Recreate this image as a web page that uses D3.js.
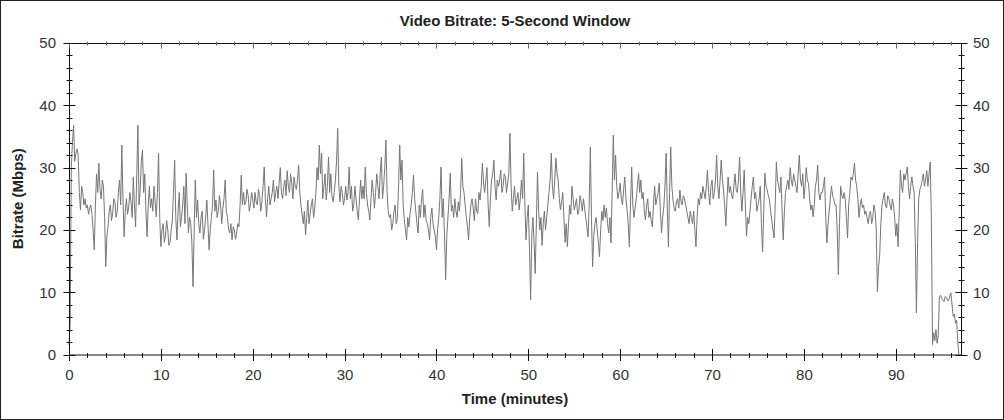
<!DOCTYPE html>
<html><head><meta charset="utf-8">
<script src="https://cdn.jsdelivr.net/npm/d3@7"></script>
<style>body{margin:0;background:#fff}svg{display:block}</style>
</head><body>
<svg id="chart" width="1004" height="420"></svg>
<script>
const titleText = "Video Bitrate: 5-Second Window";
const xLabelText = "Time (minutes)";
const yLabelText = "Bitrate (Mbps)";
const xTicks = [0,10,20,30,40,50,60,70,80,90];
const yTicks = [0,10,20,30,40,50];
const sampleStep = 0.125; // minutes between samples
// one row per minute, 8 samples each
const bitrate = [
1.5,5,30,34,36.8,31,32.3,33,
32,26,23.2,27,26,24,25,23.5,
24,22.5,23.5,24,22.5,20,16.8,24,
29,26,30.7,26.5,25,28,27,22,
14.1,19,20.5,23,24,21.5,22.6,25,
24.5,22,23,26,28,24,33.6,25,
18.9,23,25,22.5,23.7,26,24.5,22,
28.5,24,20.5,29,36.8,24,26.4,31,
32.8,26,29,23,18.9,24,27,23.5,
25,23,27,24.5,22.1,26,32.3,22,
17.3,20,21,18,19,21.5,20,17.5,
18,20,21.6,26,31.2,22,18.4,23,
26,20.5,22,24,27,21,29.1,24,
19.5,22,21,18,10.9,20,28,22,
24.8,21,19.5,22,23,18.5,20,22,
24.8,21,16.8,20,22,24,29.6,23,
24.8,22,23,25.5,24,21,23.5,25,
28,23,22,20,19.5,21,18.4,20.5,
20,18.5,19.5,21,20.5,24,28.8,24,
26,24,24.5,26.5,25.5,23,24,26,
25,23.5,26,24.5,24,26.5,25.5,23,
24.5,27,30.1,25,22.1,25,27,24,
25,26,28,24.5,26,27,25,27.5,
30,26,25,27,28,25.5,29.5,27,
26,29,27.5,25,28.5,27,26.5,28,
30.4,26,24,22.5,21,23,19.2,22,
24.8,21,22.5,24,25,22,23.5,26,
30,28,33.6,29,32.3,25,27,29,
24.8,27,31.7,26,29,25.5,24.5,26,
28,31,36.3,27,24.5,27,26,24,
25,27,24.8,26,30.1,25,27,23,
24,27,25,23,21.6,25,28,25,
27,25,30.1,26,24,23,21.6,25,
28,26,23.5,26,29,27,25,29,
31.7,25,27,30,34.4,26,23,22,
22.5,20,21,23,24,21,22,27,
33.6,28,31.2,24,21.6,20,18.4,22,
20.5,22.5,24,26,28.8,25,23,21,
19.5,24,22,25,26.5,22,24,21.5,
21,20,18.4,22,23.5,21,20,19,
16.8,20,22,25,30.1,22,25,19,
12,19,22,25,29.1,23,24,22,
25,23,22,24.5,23,26,31.5,27,
26,24,22,20.5,18.4,22,24,25,
23.5,21.5,25,23,22.6,26,24.8,27,
30.7,27.5,26,28,30,24,20.5,25,
28,29,31.2,27,24.8,28,27,28,
29.6,26,27,29,28.5,26,27.5,29,
35.5,27,23,25,27,24,25,26,
23.2,25,28,25,32.3,24,18.4,22,
24,17,8.8,19,22,18,13,21,
29.3,23,20,22,17.5,21,23,20,
22,24,26,28,32.3,27,25,28,
31.5,29,28,25,23.2,24.5,26,22,
18,21,17.3,21,24,22.5,27,25,
23.2,24,25,22.5,23,25.5,24.5,23,
25,23.5,22,20.5,18.9,24,33.3,22,
14.1,19,21,22,20,18,15.7,20,
23,21.5,24,22,23.5,21,19.5,22,
17.9,26,35.2,28,32,27,25,26,
27.5,25,24,26.5,28.5,25,23.2,21,
17.3,24,30.1,24,22,23.5,25,27,
29.1,26,28,25,26,23,21.6,24,
25,22,23,21.5,20.5,24,27,24,
25,26,27.5,23,19.5,22,23.7,27,
32.3,24,17.3,26,33.3,27,24.8,23.5,
23,24.5,25,23.5,26.4,24.5,24,25.5,
25,24,23,22,21,23,22,21,
23,20,17.3,22,25,24,26,25,
27,26,25,27,29.6,26,24,27,
28,25,26,28,32,27,25,28,
31.2,28,26.4,24,20.6,25,28.5,26,
27,25.5,25,27,29,26.5,26,28,
31.7,26,23,26,29.6,24,19,22,
21,23,25,27,28.5,25,26,23,
24,25,27,21,16.5,23,29.1,27,
26.4,25.5,24.8,23,21.6,20,18.7,24,
30.9,28,27,26,28.5,23,18.4,23,
26,27,28,26.5,30,28,27,29,
28,27,26,29,32,28,27,29,
25,27,30,28,27.5,25,23.2,24,
22.1,24,27,28,30.4,26,24.8,26,
26,27,28.5,22,17.9,21,23,25,
27,25.5,25,24,24,20,12.8,21,
27,25.5,25,26,24.8,22,18.7,24,
26,28.5,28,29,30.7,28,27,25,
22,24,25,23.5,24,22.5,23,22,
21,22.5,23,21,22,24,23,20,
10.1,14,16,21,24,25,26,24,
23.5,25.5,25,24,23.2,25,24,22,
19,21,17.3,23,29.6,27,26,29,
28,29,30.1,27,25,27,28.5,27,
26,18,6.7,18,25,26.5,27,28,
29,27,28,29.5,27,29,30.9,21.6,
1.6,3.5,2.2,4,1.8,3,9.3,9.5,
9,8.8,8.5,9.3,9.2,8.7,8.6,9.4,
9.9,8,6.1,6.5,5,5.5,2,0
];

const W = 1004, H = 420;
const plot = {left: 69, right: 961, top: 43, bottom: 354.5};
const svg = d3.select("#chart");
const font = "'Liberation Sans', Arial, sans-serif";

svg.append("rect").attr("x",0.5).attr("y",0.5).attr("width",W-1).attr("height",H-1)
  .attr("fill","#fff").attr("stroke","#222").attr("stroke-width",1);

const x = d3.scaleLinear().domain([0, 97.1]).range([plot.left, plot.right]);
const y = d3.scaleLinear().domain([0, 50]).range([plot.bottom, plot.top]);

const data = bitrate.map((v,i) => ({t: i*sampleStep, v}));

svg.append("path").datum(data)
  .attr("fill","none").attr("stroke","#767676").attr("stroke-width",1)
  .attr("stroke-linejoin","round")
  .attr("d", d3.line().x(d=>x(d.t)).y(d=>y(d.v)));

const fr = svg.append("g").attr("stroke","#111").attr("stroke-width",1).attr("fill","none");
fr.append("rect").attr("x",plot.left+0.5).attr("y",plot.top+0.5)
  .attr("width",plot.right-plot.left).attr("height",plot.bottom-plot.top);

const minorX = d3.range(0, 97, 2).filter(v=>v%10!==0);
const minorY = d3.range(0, 50, 2).filter(v=>v%10!==0);
const tk = svg.append("g").attr("stroke","#111").attr("stroke-width",1);
const X0 = plot.left+0.5, X1 = plot.right+0.5, Yb = plot.bottom+0.5, Yt = plot.top+0.5;
const px = v => Math.round(x(v))+0.5, py = v => Math.round(y(v))+0.5;
xTicks.forEach(v=>{
  tk.append("line").attr("x1",px(v)).attr("x2",px(v)).attr("y1",Yb-6).attr("y2",Yb+6);
  tk.append("line").attr("x1",px(v)).attr("x2",px(v)).attr("y1",Yt-1).attr("y2",Yt+5).attr("stroke","#666");
});
minorX.forEach(v=>{
  tk.append("line").attr("x1",px(v)).attr("x2",px(v)).attr("y1",Yb-2).attr("y2",Yb+3);
  tk.append("line").attr("x1",px(v)).attr("x2",px(v)).attr("y1",Yt-2).attr("y2",Yt+2).attr("stroke","#666");
});
yTicks.forEach(v=>{
  tk.append("line").attr("x1",X0-6).attr("x2",X0+6).attr("y1",py(v)).attr("y2",py(v));
  tk.append("line").attr("x1",X1-6).attr("x2",X1+6).attr("y1",py(v)).attr("y2",py(v));
});
minorY.forEach(v=>{
  tk.append("line").attr("x1",X0-3).attr("x2",X0+3).attr("y1",py(v)).attr("y2",py(v));
  tk.append("line").attr("x1",X1-3).attr("x2",X1+3).attr("y1",py(v)).attr("y2",py(v));
});

const axX = d3.axisBottom(x).tickValues(xTicks).tickSize(0).tickPadding(0).tickFormat(d3.format("d"));
const gx = svg.append("g").attr("transform",`translate(0,${plot.bottom+25})`).call(axX);
const axL = d3.axisLeft(y).tickValues(yTicks).tickSize(0).tickPadding(0);
const gl = svg.append("g").attr("transform",`translate(56,0)`).call(axL);
const axR = d3.axisRight(y).tickValues(yTicks).tickSize(0).tickPadding(0);
const gr = svg.append("g").attr("transform",`translate(973,0)`).call(axR);
[gx,gl,gr].forEach(g=>{
  g.select(".domain").remove();
  g.selectAll("text").attr("font-family",font).attr("font-size",15).attr("fill","#333");
});
gx.selectAll("text").attr("dy","0");

svg.append("text").attr("x",(plot.left+plot.right)/2).attr("y",26)
  .attr("text-anchor","middle").attr("font-family",font).attr("font-size",15)
  .attr("font-weight","bold").attr("fill","#222").text(titleText);
svg.append("text").attr("x",(plot.left+plot.right)/2).attr("y",404)
  .attr("text-anchor","middle").attr("font-family",font).attr("font-size",15)
  .attr("font-weight","bold").attr("fill","#222").text(xLabelText);
svg.append("text").attr("transform",`translate(23,${(plot.top+plot.bottom)/2}) rotate(-90)`)
  .attr("text-anchor","middle").attr("font-family",font).attr("font-size",15)
  .attr("font-weight","bold").attr("fill","#222").text(yLabelText);
</script>
</body></html>
